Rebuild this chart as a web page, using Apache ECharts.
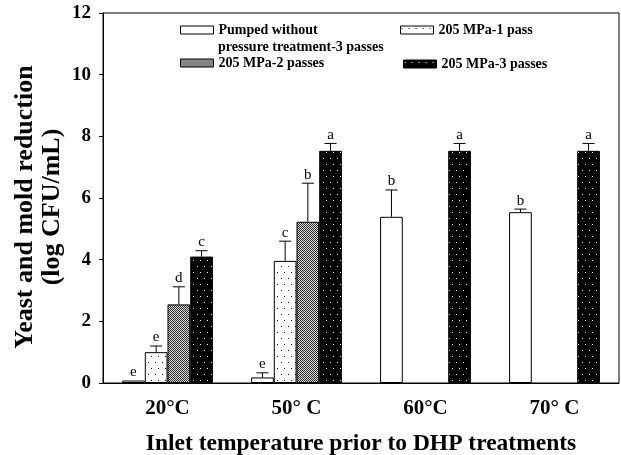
<!DOCTYPE html>
<html>
<head>
<meta charset="utf-8">
<script src="https://cdn.jsdelivr.net/npm/echarts@6/dist/echarts.min.js"></script>
<style>
html, body { margin: 0; padding: 0; background: #fff; }
#chart { width: 621px; height: 455px; }
</style>
</head>
<body>
<div id="chart"></div>
<script>
// categories + series (log CFU/mL reduction)
var categories = ['20°C', '50° C', '60°C', '70° C'];
var seriesNames = ['Pumped without', '205 MPa-1 pass', '205 MPa-2 passes', '205 MPa-3 passes'];
var pumpedNameLine2 = 'pressure treatment-3 passes';

var pumped = [0.08, 0.18, 5.39, 5.54];
var mpa1 = [1.0, 3.96, null, null];
var mpa2 = [2.55, 5.23, null, null];
var mpa3 = [4.10, 7.53, 7.53, 7.53];

// standard deviations (upper whisker only)
var pumpedErr = [0, 0.15, 0.87, 0.1];
var mpa1Err = [0.2, 0.64, null, null];
var mpa2Err = [0.57, 1.25, null, null];
var mpa3Err = [0.19, 0.24, 0.24, 0.24];

// significance letters
var pumpedSig = ['e', 'e', 'b', 'b'];
var mpa1Sig = ['e', 'c', '', ''];
var mpa2Sig = ['d', 'b', '', ''];
var mpa3Sig = ['c', 'a', 'a', 'a'];

var yTicks = [0, 2, 4, 6, 8, 10, 12];

var FONT = 'Liberation Serif';
var BAR_FRAC = 0.176; // bar width as part of category width

// fill patterns
function makePattern(w, h, bg, fg, dots) {
    var c = document.createElement('canvas');
    c.width = w;
    c.height = h;
    var ctx = c.getContext('2d');
    ctx.fillStyle = bg;
    ctx.fillRect(0, 0, w, h);
    ctx.fillStyle = fg;
    for (var i = 0; i < dots.length; i++) {
        ctx.fillRect(dots[i][0], dots[i][1], 1, 1);
    }
    return { image: c, repeat: 'repeat' };
}
var fills = [
    '#ffffff',
    makePattern(7, 12, '#ffffff', '#000000', [[1, 2], [4, 8]]),
    makePattern(2, 2, '#d8d8d8', '#303030', [[0, 0], [1, 1]]),
    makePattern(7, 12, '#000000', '#ffffff', [[1, 2], [4, 8]])
];

var values = [pumped, mpa1, mpa2, mpa3];
var errs = [pumpedErr, mpa1Err, mpa2Err, mpa3Err];
var sigs = [pumpedSig, mpa1Sig, mpa2Sig, mpa3Sig];

// error bar items: [category, series, value, err]
var errItems = [];
var errLetters = [];
for (var s = 0; s < values.length; s++) {
    for (var c = 0; c < categories.length; c++) {
        if (values[s][c] == null) continue;
        errItems.push([c, s, values[s][c], errs[s][c] || 0]);
        errLetters.push(sigs[s][c]);
    }
}

var renderErr = function (params, api) {
    var cat = api.value(0), k = api.value(1), v = api.value(2), e = api.value(3);
    var bw = api.size([1, 0])[0] * BAR_FRAC;
    var base = api.coord([cat, v]);
    var x = base[0] + (k - 1.5) * bw;
    var top = api.coord([cat, v + e])[1];
    var children = [];
    if (e > 0) {
        children.push({
            type: 'line',
            shape: { x1: x, y1: base[1], x2: x, y2: top },
            style: { stroke: '#000', lineWidth: 1 }
        });
        children.push({
            type: 'line',
            shape: { x1: x - 6, y1: top, x2: x + 6, y2: top },
            style: { stroke: '#000', lineWidth: 1 }
        });
    }
    children.push({
        type: 'text',
        style: {
            text: errLetters[params.dataIndex],
            x: x,
            y: top - 1,
            align: 'center',
            verticalAlign: 'bottom',
            font: '15px "' + FONT + '"',
            fill: '#000'
        }
    });
    return { type: 'group', children: children };
};

var series = [];
for (var i = 0; i < values.length; i++) {
    series.push({
        name: seriesNames[i],
        type: 'bar',
        data: values[i],
        barWidth: (BAR_FRAC * 100) + '%',
        barGap: '0%',
        itemStyle: {
            color: fills[i],
            borderColor: '#000',
            borderWidth: 1
        },
        animation: false
    });
}
series.push({
    type: 'custom',
    renderItem: renderErr,
    data: errItems,
    z: 5,
    clip: false,
    silent: true,
    animation: false
});

var legendText = {
    fontFamily: FONT,
    fontWeight: 'bold',
    fontSize: 14,
    color: '#000'
};
var makeLegend = function (name, left, top) {
    return {
        data: [name],
        left: left,
        top: top,
        icon: 'rect',
        itemWidth: 33,
        itemHeight: 8,
        itemGap: 0,
        padding: 0,
        selectedMode: false,
        itemStyle: { borderColor: '#000', borderWidth: 1 },
        textStyle: legendText
    };
};

var myChart = echarts.init(document.getElementById('chart'));
myChart.setOption({
    backgroundColor: '#fff',
    animation: false,
    textStyle: { fontFamily: FONT },
    grid: {
        left: 103,
        right: 2,
        top: 13,
        bottom: 72,
        outerBoundsMode: 'none',
        show: true,
        borderColor: '#000',
        borderWidth: 1
    },
    legend: [
        makeLegend(seriesNames[0], 180, 23),
        makeLegend(seriesNames[2], 180, 56),
        makeLegend(seriesNames[1], 400, 23),
        makeLegend(seriesNames[3], 403, 57)
    ],
    graphic: [{
        type: 'text',
        left: 218,
        top: 40,
        style: {
            text: pumpedNameLine2,
            font: 'bold 14px "' + FONT + '"',
            fill: '#000'
        }
    }],
    xAxis: {
        type: 'category',
        data: categories,
        name: 'Inlet temperature prior to DHP treatments',
        nameLocation: 'middle',
        nameGap: 49,
        nameMoveOverlap: false,
        nameTextStyle: { fontFamily: FONT, fontWeight: 'bold', fontSize: 23.5, color: '#000' },
        axisLine: { lineStyle: { color: '#000', width: 1 } },
        axisTick: { show: false },
        axisLabel: { fontFamily: FONT, fontWeight: 'bold', fontSize: 21, color: '#000', margin: 15 },
        splitLine: { show: false }
    },
    yAxis: {
        type: 'value',
        min: yTicks[0],
        max: yTicks[yTicks.length - 1],
        interval: 2,
        name: 'Yeast and mold reduction\n(log CFU/mL)',
        nameLocation: 'middle',
        nameRotate: 90,
        nameGap: 37,
        nameMoveOverlap: false,
        nameTextStyle: {
            fontFamily: FONT, fontWeight: 'bold', fontSize: 26, color: '#000',
            lineHeight: 27, padding: [0, 18, 0, 0]
        },
        axisLine: { show: true, lineStyle: { color: '#000', width: 1 } },
        axisTick: { show: true, inside: false, length: 4, lineStyle: { color: '#000' } },
        axisLabel: { fontFamily: FONT, fontWeight: 'bold', fontSize: 19, color: '#000', margin: 12 },
        splitLine: { show: false }
    },
    series: series
});
</script>
</body>
</html>
